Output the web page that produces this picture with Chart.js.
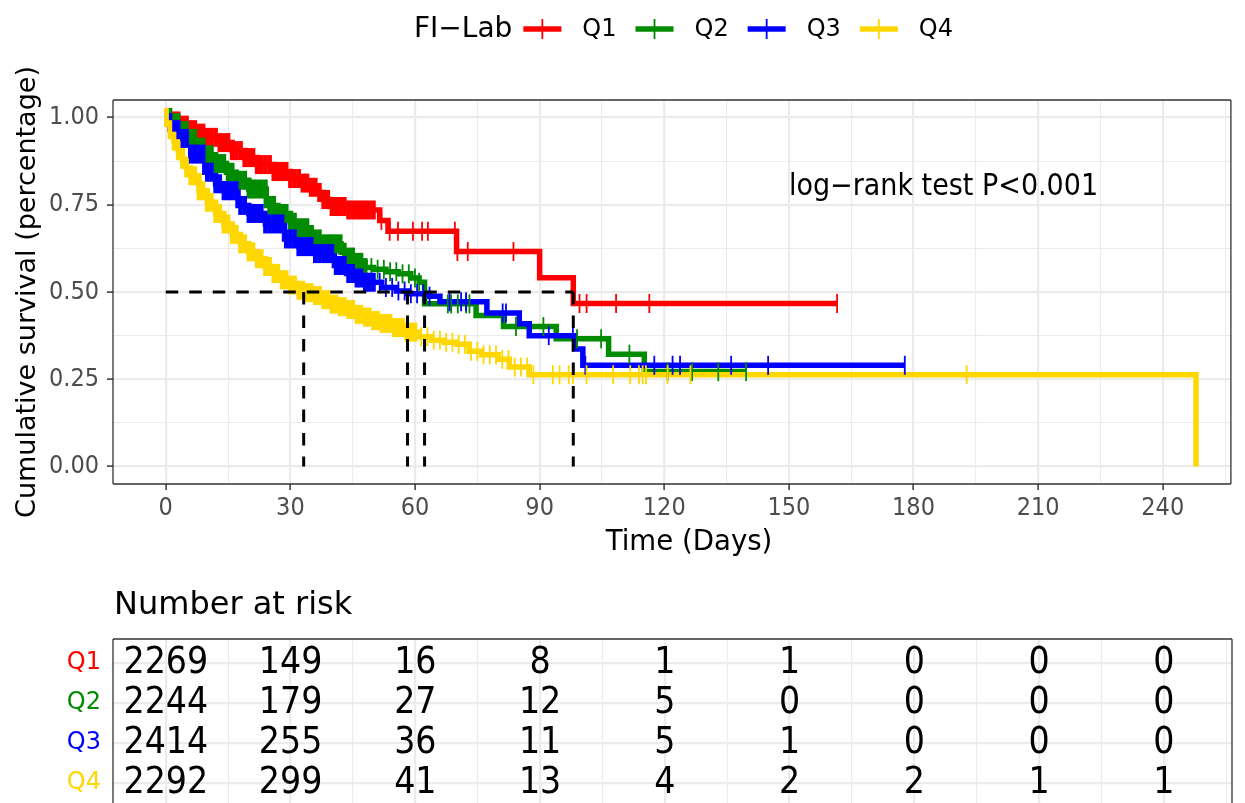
<!DOCTYPE html>
<html>
<head>
<meta charset="utf-8">
<script src="https://cdn.jsdelivr.net/npm/chart.js@4"></script>
<style>
  html, body { margin: 0; padding: 0; background: #fff; }
  canvas { display: block; }
</style>
</head>
<body>
<canvas id="kmChart" width="1245" height="560"></canvas>
<canvas id="riskChart" width="1245" height="243"></canvas>
<script>
// groups
var groupNames = ['Q1', 'Q2', 'Q3', 'Q4'];
var groupColors = ['#ff0000', '#008b00', '#0000ff', '#ffd700'];

// survival curves (time in days, survival fraction)
var q1Time = [0, 2, 4, 6, 8, 10, 13, 16, 19, 22, 26, 30, 33, 35, 36.5, 38, 39.5, 44, 51.5, 53.5, 70, 90, 98.1, 161.6];
var q1Surv = [1, 0.99, 0.978, 0.965, 0.955, 0.943, 0.928, 0.905, 0.885, 0.865, 0.845, 0.825, 0.812, 0.8, 0.785, 0.765, 0.745, 0.735, 0.705, 0.674, 0.616, 0.541, 0.467, 0.467];

var q2Time = [0, 2, 4, 5.8, 8, 10, 12, 14.6, 17, 20, 24.2, 27, 30, 32, 35, 38, 42.2, 44, 46, 48, 50, 53, 56, 59, 61, 62.3, 74.7, 81.3, 94, 106.6, 115.2, 139.7];
var q2Surv = [1, 0.985, 0.962, 0.94, 0.915, 0.893, 0.868, 0.843, 0.82, 0.795, 0.748, 0.725, 0.7, 0.684, 0.652, 0.638, 0.614, 0.6, 0.585, 0.57, 0.565, 0.558, 0.552, 0.54, 0.528, 0.466, 0.433, 0.401, 0.366, 0.322, 0.272, 0.272];

var q3Time = [0, 1, 2, 3.4, 6, 9.4, 12, 14, 17.4, 20, 24, 28.6, 32, 36, 40.6, 43.5, 46, 48, 52, 55.5, 58.2, 63.5, 66, 77.3, 85.1, 87.5, 98.4, 100.4, 177.9];
var q3Surv = [1, 0.985, 0.965, 0.94, 0.895, 0.843, 0.81, 0.79, 0.748, 0.725, 0.695, 0.652, 0.63, 0.61, 0.576, 0.553, 0.54, 0.528, 0.513, 0.503, 0.495, 0.488, 0.472, 0.44, 0.409, 0.375, 0.337, 0.29, 0.29];

var q4Time = [0, 1, 2, 3, 4, 5, 6, 8, 10, 12, 14, 16, 18, 20, 22, 24, 26, 28, 30, 32, 33.2, 36, 38, 40, 42, 44, 46, 48, 50, 52, 55, 58, 61, 64, 67, 70, 73, 76, 80, 82.7, 87.5, 248];
var q4Surv = [1, 0.965, 0.932, 0.905, 0.88, 0.855, 0.833, 0.79, 0.757, 0.725, 0.695, 0.665, 0.638, 0.615, 0.595, 0.573, 0.553, 0.535, 0.52, 0.505, 0.498, 0.49, 0.478, 0.465, 0.458, 0.45, 0.436, 0.428, 0.418, 0.41, 0.398, 0.385, 0.372, 0.362, 0.356, 0.35, 0.33, 0.32, 0.307, 0.285, 0.263, 0];

// censoring times: the solid early band ...
var q1CensorDense = [0.3, 1, 2, 3, 4, 5, 6, 7, 8, 9, 10, 11, 12, 13, 14, 15, 16, 17, 18, 19, 20, 21, 22, 23, 24, 25, 26, 27, 28, 29, 30, 31, 32, 33, 34, 35, 36, 37, 38, 39, 40, 41, 42, 43, 44, 45, 46, 47, 48, 49, 50];
var q2CensorDense = [1, 2, 3, 4, 5, 6, 7, 8, 9, 10, 11, 12, 13, 14, 15, 16, 17, 18, 19, 20, 21, 22, 23, 24, 25, 26, 27, 28, 29, 30, 31, 32, 33, 34, 35, 36, 37, 38, 39, 40, 41, 42, 43, 44, 45, 46, 47, 48];
var q3CensorDense = [1, 2, 3, 4, 5, 6, 7, 8, 9, 10, 11, 12, 13, 14, 15, 16, 17, 18, 19, 20, 21, 22, 23, 24, 25, 26, 27, 28, 29, 30, 31, 32, 33, 34, 35, 36, 37, 38, 39, 40, 41, 42, 43, 44, 45, 46, 47, 48, 49, 50];
var q4CensorDense = [0.2, 1, 2, 3, 4, 5, 6, 7, 8, 9, 10, 11, 12, 13, 14, 15, 16, 17, 18, 19, 20, 21, 22, 23, 24, 25, 26, 27, 28, 29, 30, 31, 32, 33, 34, 35, 36, 37, 38, 39, 40, 41, 42, 43, 44, 45, 46, 47, 48, 49, 50, 51, 52, 53, 54, 55, 56, 57, 58, 59, 60];
// ... and the single ticks later on
var q1CensorSparse = [51.9, 53.9, 55.9, 59.5, 61.7, 63.1, 69.6, 70.2, 72.7, 83.7, 99.6, 101.3, 108.4, 116.4, 161.6];
var q2CensorSparse = [49.5, 51, 52.5, 54, 55.5, 57, 58.5, 60, 61, 67.9, 68.7, 70.3, 72.3, 73.1, 84.3, 90.9, 99, 104.8, 111.6, 120.8, 126.7, 133, 139.7];
var q3CensorSparse = [51.5, 53, 54.5, 56, 57.5, 59, 60.5, 62, 63.5, 68.3, 71.1, 72.3, 81.1, 81.9, 92.2, 98, 101, 117.6, 122, 123.8, 136.1, 145, 177.9];
var q4CensorSparse = [61.5, 63, 64.5, 66, 67.5, 69, 70.5, 72, 73.5, 75, 76.5, 78, 79.5, 81, 82.5, 84, 85.5, 87, 88.5,
  93.2, 94.8, 97, 98, 101.3, 107.7, 111.8, 113.9, 114.8, 115.6, 120.8, 126.3, 192.8];

// median survival times (dashed guides)
var medianTimes = [33.2, 58.2, 62.3, 98.1];
var medianLevel = 0.5;

// axes
var xTickLabels = [0, 30, 60, 90, 120, 150, 180, 210, 240];
var xGrid = [0, 15, 30, 45, 60, 75, 90, 105, 120, 135, 150, 165, 180, 195, 210, 225, 240, 255];
var yTickLabels = [0, 0.25, 0.5, 0.75, 1];
var yGrid = [0, 0.125, 0.25, 0.375, 0.5, 0.625, 0.75, 0.875, 1];

// number at risk table
var riskTimes = [0, 30, 60, 90, 120, 150, 180, 210, 240];
var riskQ1 = [2269, 149, 16, 8, 1, 1, 0, 0, 0];
var riskQ2 = [2244, 179, 27, 12, 5, 0, 0, 0, 0];
var riskQ3 = [2414, 255, 36, 11, 5, 1, 0, 0, 0];
var riskQ4 = [2292, 299, 41, 13, 4, 2, 2, 1, 1];

var pText = 'log\u2212rank test P<0.001';
var legendTitle = 'FI\u2212Lab';

var FONT = 'DejaVu Sans';
var CONDENSED = '"DejaVu Sans Condensed", "DejaVu Sans"';
Chart.defaults.font.family = FONT;

var curves = [
  [q1Time, q1Surv, q1CensorDense, q1CensorSparse],
  [q2Time, q2Surv, q2CensorDense, q2CensorSparse],
  [q3Time, q3Surv, q3CensorDense, q3CensorSparse],
  [q4Time, q4Surv, q4CensorDense, q4CensorSparse]
];

// survival value of a step curve at time t
function stepValue(times, surv, t) {
  var v = surv[0];
  for (var i = 0; i < times.length; i++) {
    if (times[i] <= t) v = surv[i];
  }
  return v;
}

function isMajor(list, v) {
  return list.indexOf(v) >= 0;
}

var datasets = [];

// dashed median guides on top
var dashStyle = { borderColor: '#000', borderWidth: 3, borderDash: [12.5, 11], pointRadius: 0, fill: false };
datasets.push(Object.assign({
  data: [{ x: 0, y: medianLevel }, { x: Math.max.apply(null, medianTimes), y: medianLevel }]
}, dashStyle));
medianTimes.forEach(function (t) {
  datasets.push(Object.assign({ data: [{ x: t, y: medianLevel }, { x: t, y: 0 }] }, dashStyle));
});

// censor ticks, Q4 drawn above Q1
function censorSet(g, times, width) {
  var c = curves[g];
  return {
    data: times.map(function (t) { return { x: t, y: stepValue(c[0], c[1], t) }; }),
    showLine: false,
    pointStyle: 'line',
    rotation: 90,
    pointRadius: 9.5,
    pointBorderWidth: width,
    borderColor: groupColors[g],
    backgroundColor: groupColors[g]
  };
}
for (var g = 3; g >= 0; g--) {
  datasets.push(censorSet(g, curves[g][3], 1.8));
  datasets.push(censorSet(g, curves[g][2], 4.6));
}

// step curves
for (var g2 = 3; g2 >= 0; g2--) {
  var cv = curves[g2];
  datasets.push({
    data: cv[0].map(function (t, i) { return { x: t, y: cv[1][i] }; }),
    stepped: true,
    borderColor: groupColors[g2],
    borderWidth: 5.5,
    pointRadius: 0,
    fill: false
  });
}

function drawBorder(chart, sides) {
  var a = chart.chartArea, ctx = chart.ctx;
  ctx.save();
  ctx.strokeStyle = '#333333';
  ctx.lineWidth = 1.3;
  ctx.beginPath();
  if (sides.indexOf('top') >= 0) { ctx.moveTo(a.left, a.top); ctx.lineTo(a.right, a.top); }
  if (sides.indexOf('right') >= 0) { ctx.moveTo(a.right, a.top); ctx.lineTo(a.right, a.bottom); }
  if (sides.indexOf('bottom') >= 0) { ctx.moveTo(a.left, a.bottom); ctx.lineTo(a.right, a.bottom); }
  if (sides.indexOf('left') >= 0) { ctx.moveTo(a.left, a.top); ctx.lineTo(a.left, a.bottom); }
  ctx.stroke();
  ctx.restore();
}

var kmExtras = {
  id: 'kmExtras',
  afterDraw: function (chart) {
    var ctx = chart.ctx;
    var xs = chart.scales.x, ys = chart.scales.y;
    drawBorder(chart, ['top', 'right', 'bottom', 'left']);
    ctx.save();
    // p value annotation
    ctx.fillStyle = '#000';
    ctx.font = '30px ' + CONDENSED;
    ctx.textAlign = 'left';
    ctx.textBaseline = 'middle';
    ctx.fillText(pText, xs.getPixelForValue(150), ys.getPixelForValue(0.8));

    // x axis title
    ctx.textAlign = 'center';
    ctx.font = '27.6px ' + FONT;
    ctx.fillText('Time (Days)', 689, 543);

    // legend
    ctx.textAlign = 'left';
    var y = 30;
    var x = 414;
    ctx.font = '28px ' + FONT;
    ctx.fillText(legendTitle, x, y);
    x += ctx.measureText(legendTitle).width + 11;
    ctx.font = '24px ' + FONT;
    for (var i = 0; i < groupNames.length; i++) {
      ctx.strokeStyle = groupColors[i];
      ctx.lineWidth = 5.5;
      ctx.beginPath();
      ctx.moveTo(x, y - 1);
      ctx.lineTo(x + 38, y - 1);
      ctx.stroke();
      ctx.lineWidth = 1.8;
      ctx.beginPath();
      ctx.moveTo(x + 19, y - 11);
      ctx.lineTo(x + 19, y + 9);
      ctx.stroke();
      ctx.fillStyle = '#000';
      ctx.fillText(groupNames[i], x + 59, y);
      x += 59 + ctx.measureText(groupNames[i]).width + 19;
    }
    ctx.restore();
  }
};

new Chart(document.getElementById('kmChart'), {
  type: 'line',
  data: { datasets: datasets },
  options: {
    responsive: false,
    animation: false,
    devicePixelRatio: 1,
    layout: { padding: { top: 100, right: 13, left: 0, bottom: 0 } },
    plugins: { legend: { display: false }, tooltip: { enabled: false } },
    scales: {
      x: {
        type: 'linear',
        min: -12.7,
        max: 256.4,
        afterBuildTicks: function (s) { s.ticks = xGrid.map(function (v) { return { value: v }; }); },
        afterFit: function (s) { s.height = 76; },
        ticks: {
          autoSkip: false,
          maxRotation: 0,
          padding: 3,
          color: '#4d4d4d',
          font: { family: CONDENSED, size: 25 },
          callback: function (v) { return isMajor(xTickLabels, v) ? String(v) : ''; }
        },
        grid: {
          color: '#ebebeb',
          lineWidth: function (c) { return isMajor(xTickLabels, c.tick.value) ? 2.2 : 1.1; },
          tickLength: 6,
          tickWidth: 1.5,
          tickColor: function (c) { return isMajor(xTickLabels, c.tick.value) ? '#333333' : 'rgba(0,0,0,0)'; }
        },
        border: { display: false }
      },
      y: {
        type: 'linear',
        min: -0.05,
        max: 1.05,
        afterBuildTicks: function (s) { s.ticks = yGrid.map(function (v) { return { value: v }; }); },
        afterFit: function (s) { s.width = 113; },
        ticks: {
          autoSkip: false,
          padding: 8,
          color: '#4d4d4d',
          font: { family: CONDENSED, size: 25 },
          callback: function (v) { return isMajor(yTickLabels, v) ? v.toFixed(2) : ''; }
        },
        grid: {
          color: '#ebebeb',
          lineWidth: function (c) { return isMajor(yTickLabels, c.tick.value) ? 2.2 : 1.1; },
          tickLength: 6,
          tickWidth: 1.5,
          tickColor: function (c) { return isMajor(yTickLabels, c.tick.value) ? '#333333' : 'rgba(0,0,0,0)'; }
        },
        border: { display: false },
        title: { display: true, text: 'Cumulative survival (percentage)', color: '#000', font: { size: 27 }, padding: { top: 12, bottom: 0 } }
      }
    }
  },
  plugins: [kmExtras]
});

// risk table
var riskRows = [riskQ1, riskQ2, riskQ3, riskQ4];

var riskText = {
  id: 'riskText',
  afterDraw: function (chart) {
    var ctx = chart.ctx;
    var xs = chart.scales.x, ys = chart.scales.y;
    drawBorder(chart, ['top', 'right', 'left']);
    ctx.save();
    ctx.fillStyle = '#000';
    ctx.textBaseline = 'middle';
    ctx.textAlign = 'left';
    ctx.font = '32px ' + FONT;
    ctx.fillText('Number at risk', 114, 46);
    ctx.textAlign = 'center';
    ctx.font = '37px ' + CONDENSED;
    riskRows.forEach(function (row, i) {
      row.forEach(function (n, j) {
        ctx.fillText(String(n), xs.getPixelForValue(riskTimes[j]), ys.getPixelForValue(4 - i));
      });
    });
    // row labels
    ctx.textAlign = 'right';
    ctx.font = '24px ' + FONT;
    groupNames.forEach(function (name, i) {
      ctx.fillStyle = groupColors[i];
      ctx.fillText(name, 101, ys.getPixelForValue(4 - i));
    });
    ctx.restore();
  }
};

new Chart(document.getElementById('riskChart'), {
  type: 'scatter',
  data: { datasets: [] },
  options: {
    responsive: false,
    animation: false,
    devicePixelRatio: 1,
    layout: { padding: { top: 79, right: 13, left: 0, bottom: 0 } },
    plugins: { legend: { display: false }, tooltip: { enabled: false } },
    scales: {
      x: {
        type: 'linear',
        min: -12.7,
        max: 256.4,
        afterBuildTicks: function (s) { s.ticks = xGrid.map(function (v) { return { value: v }; }); },
        afterFit: function (s) { s.height = 0; },
        ticks: { display: false },
        grid: {
          color: '#ebebeb',
          drawTicks: false,
          lineWidth: function (c) { return isMajor(xTickLabels, c.tick.value) ? 2.2 : 1.1; }
        },
        border: { display: false }
      },
      y: {
        type: 'linear',
        min: 0.5075,
        max: 4.6,
        afterBuildTicks: function (s) { s.ticks = [1, 2, 3, 4].map(function (v) { return { value: v }; }); },
        afterFit: function (s) { s.width = 113; },
        ticks: { display: false },
        grid: { color: '#ebebeb', lineWidth: 2.2, drawTicks: false },
        border: { display: false }
      }
    }
  },
  plugins: [riskText]
});
</script>
</body>
</html>
